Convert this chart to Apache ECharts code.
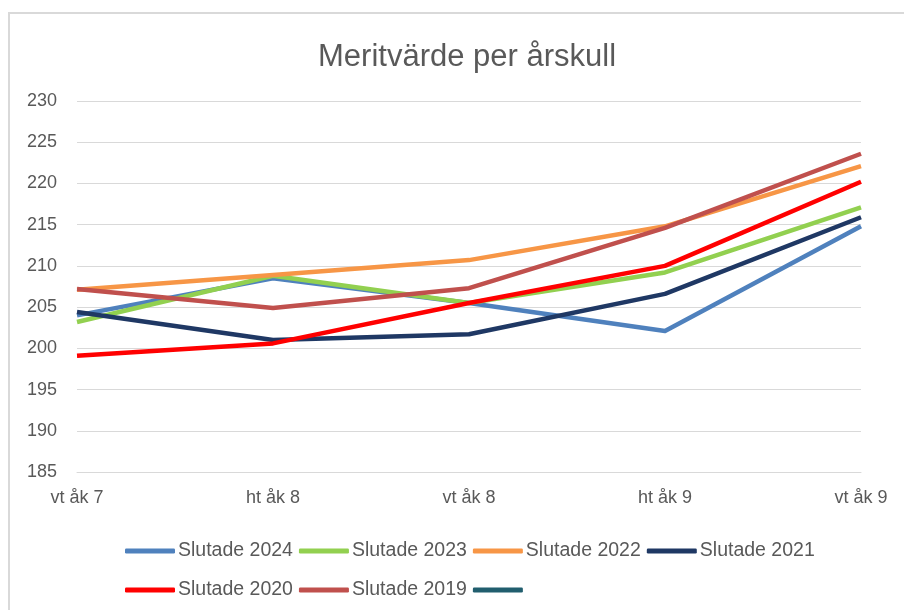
<!DOCTYPE html>
<html>
<head>
<meta charset="utf-8">
<script src="https://cdn.jsdelivr.net/npm/echarts@6/dist/echarts.min.js"></script>
<style>
  html, body { margin: 0; padding: 0; background: #fff; }
  #frame { position: absolute; left: 8px; top: 12px; width: 904px; height: 610px;
    border-left: 2px solid #d9d9d9; border-top: 2px solid #d9d9d9; }
  #chart { position: absolute; left: 0; top: 0; width: 904px; height: 610px; }
</style>
</head>
<body>
<div id="frame"></div>
<div id="chart"></div>
<script>
const categories = ['vt åk 7', 'ht åk 8', 'vt åk 8', 'ht åk 9', 'vt åk 9'];

const slutade2024 = [204.0, 208.5, 205.5, 202.1, 214.8];
const slutade2023 = [203.2, 208.8, 205.5, 209.2, 217.1];
const slutade2022 = [207.1, 208.9, 210.7, 214.8, 222.1];
const slutade2021 = [204.4, 201.0, 201.7, 206.6, 215.9];
const slutade2020 = [199.1, 200.6, 205.5, 210.0, 220.2];
const slutade2019 = [207.2, 204.9, 207.3, 214.6, 223.6];

const names = ['Slutade 2024', 'Slutade 2023', 'Slutade 2022', 'Slutade 2021', 'Slutade 2020', 'Slutade 2019', ' '];
const values = [slutade2024, slutade2023, slutade2022, slutade2021, slutade2020, slutade2019, []];
const colors = ['#4F81BD', '#92D050', '#F79646', '#1F3864', '#FF0000', '#C0504D', '#215E6E'];

const font = 'Liberation Sans';
const grey = '#595959';

const chart = echarts.init(document.getElementById('chart'));

const legendBase = {
  left: 120,
  icon: 'roundRect',
  itemWidth: 50,
  itemHeight: 5,
  itemGap: 6,
  textStyle: { fontFamily: font, fontSize: 19.5, color: grey, padding: [0, 0, 0, -2] }
};

chart.setOption({
  color: colors,
  animation: false,
  title: {
    text: 'Meritvärde per årskull',
    left: 313,
    top: 37,
    textStyle: { fontFamily: font, fontSize: 31, fontWeight: 'normal', color: grey }
  },
  legend: [
    Object.assign({}, legendBase, { top: 536, data: names.slice(0, 4) }),
    Object.assign({}, legendBase, { top: 575, data: names.slice(4) })
  ],
  grid: { left: 77, right: 43, top: 101, bottom: 138 },
  xAxis: {
    type: 'category',
    data: categories,
    boundaryGap: false,
    axisLine: { show: true, lineStyle: { color: '#d9d9d9' } },
    axisTick: { show: false },
    axisLabel: { fontFamily: font, fontSize: 18, color: grey, margin: 17, interval: 0 },
    splitLine: { show: false }
  },
  yAxis: {
    type: 'value',
    min: 185,
    max: 230,
    interval: 5,
    axisLine: { show: false },
    axisTick: { show: false },
    axisLabel: { fontFamily: font, fontSize: 18, color: grey, margin: 20, align: 'right' },
    splitLine: { lineStyle: { color: '#d9d9d9', width: 1 } }
  },
  series: names.map((n, i) => ({
    name: n,
    type: 'line',
    data: values[i],
    symbol: 'none',
    lineStyle: { width: 4.5, color: colors[i], join: 'round' },
    itemStyle: { color: colors[i] }
  }))
});
</script>
</body>
</html>
